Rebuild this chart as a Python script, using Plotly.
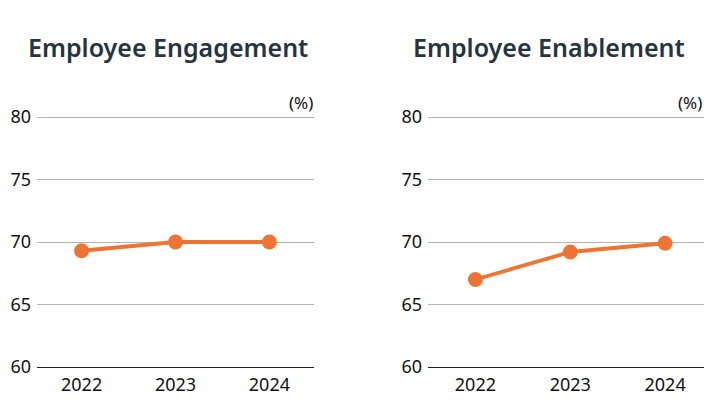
import plotly.graph_objects as go

years = ["2022", "2023", "2024"]
engagement = [69.3, 70.0, 70.0]
enablement = [67.0, 69.2, 69.9]
titles = ["Employee Engagement", "Employee Enablement"]
y_ticks = [60, 65, 70, 75, 80]
unit_label = "(%)"

# the page body has an 8px margin, so the figure is drawn 8px in from the window edge
OFF = 8
FW, FH = 718 - OFF, 416 - OFF
orange = "#EE7433"
title_color = "#253440"
font_family = "Noto Sans"


def px(x):
    return (x - OFF) / FW


def py(y):
    return (FH - (y - OFF)) / FH


fig = go.Figure()
fig.add_trace(go.Scatter(x=years, y=engagement, mode="lines+markers",
                         line=dict(color=orange, width=3.8),
                         marker=dict(color=orange, size=15),
                         xaxis="x", yaxis="y", showlegend=False, hoverinfo="skip"))
fig.add_trace(go.Scatter(x=years, y=enablement, mode="lines+markers",
                         line=dict(color=orange, width=3.8),
                         marker=dict(color=orange, size=15),
                         xaxis="x2", yaxis="y2", showlegend=False, hoverinfo="skip"))

# 60 at y=367px, 80 at y=117px -> 12.5 px per unit; extend top a little so 80 gridline shows
y_top = 80.3
ydom = [py(367), py(117 - (y_top - 80) * 12.5)]
left_dom = [px(37), px(314)]
right_dom = [px(428), px(704)]

ax_common = dict(type="category", showgrid=False, showline=True, linecolor="#222222",
                 linewidth=1.3, ticks="", tickfont=dict(size=18, color="#111111", family=font_family),
                 ticklabelstandoff=1, zeroline=False, fixedrange=True, automargin=False)
ay_common = dict(range=[60, y_top], tickvals=y_ticks, showgrid=True, gridcolor="#b4b4b4",
                 gridwidth=1.2, showline=False, zeroline=False, ticks="",
                 tickfont=dict(size=18, color="#111111", family=font_family),
                 ticklabelstandoff=5, fixedrange=True, automargin=False)

fig.update_layout(
    template="none",
    width=FW, height=FH,
    margin=dict(l=0, r=0, t=0, b=0, pad=0),
    paper_bgcolor="white", plot_bgcolor="white",
    font=dict(family=font_family),
    xaxis=dict(domain=left_dom, anchor="y", range=[-0.475, 2.475], **ax_common),
    yaxis=dict(domain=ydom, anchor="x", **ay_common),
    xaxis2=dict(domain=right_dom, anchor="y2", range=[-0.5, 2.41], **ax_common),
    yaxis2=dict(domain=ydom, anchor="x2", **ay_common),
)

annotations = [
    dict(text=titles[0], x=px(168), y=py(47), xref="paper", yref="paper",
         xanchor="center", yanchor="middle", showarrow=False,
         font=dict(size=25, color=title_color, family=font_family, weight=600)),
    dict(text=titles[1], x=px(549), y=py(47), xref="paper", yref="paper",
         xanchor="center", yanchor="middle", showarrow=False,
         font=dict(size=25, color=title_color, family=font_family, weight=600)),
    dict(text=unit_label, x=px(315), y=py(103), xref="paper", yref="paper",
         xanchor="right", yanchor="middle", showarrow=False,
         font=dict(size=17, color="#111111", family=font_family)),
    dict(text=unit_label, x=px(704), y=py(103), xref="paper", yref="paper",
         xanchor="right", yanchor="middle", showarrow=False,
         font=dict(size=17, color="#111111", family=font_family)),
]
fig.update_layout(annotations=annotations)

fig.write_html("out.html", config=dict(displayModeBar=False))
